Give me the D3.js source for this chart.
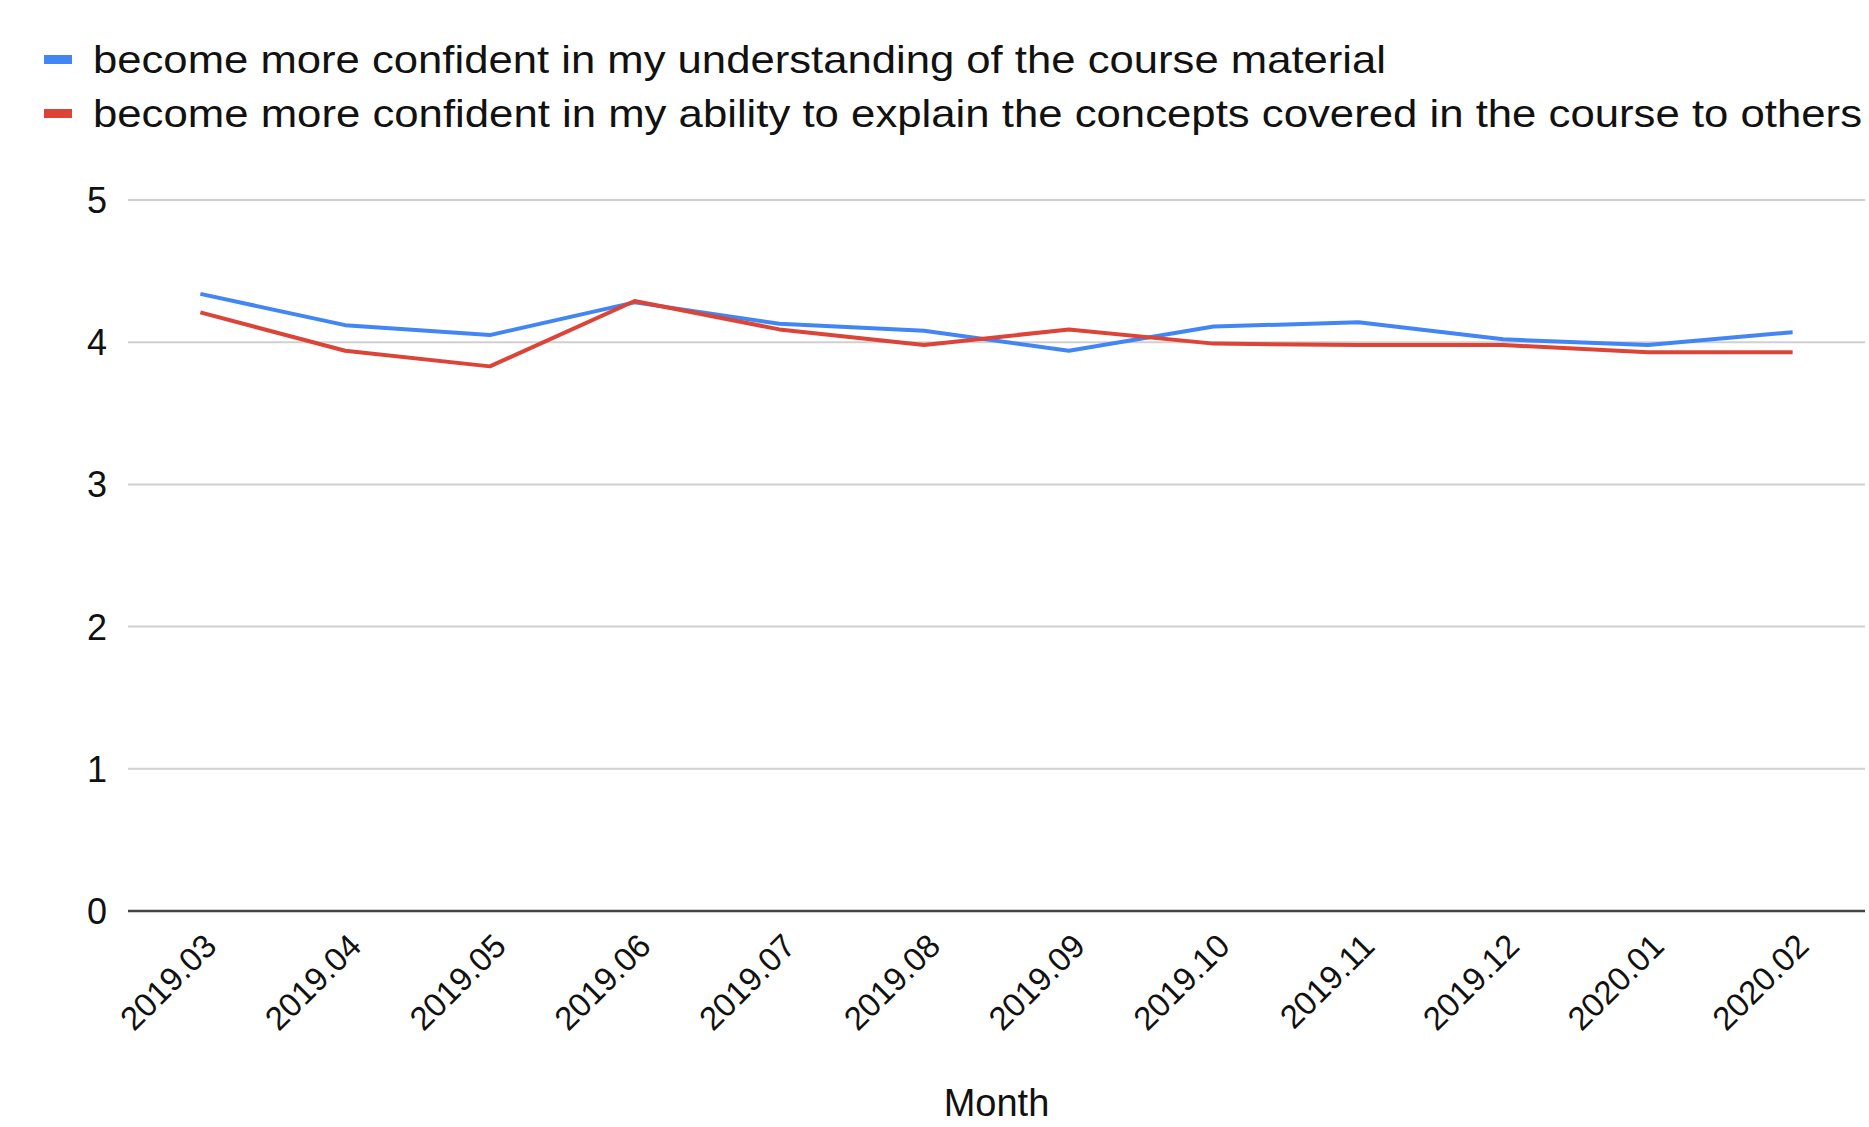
<!DOCTYPE html>
<html>
<head>
<meta charset="utf-8">
<script src="https://cdn.jsdelivr.net/npm/d3@7"></script>
<style>
  html, body { margin: 0; padding: 0; background: #fff; }
  svg { display: block; }
  text { font-family: "Liberation Sans", Arial, sans-serif; fill: #111; }
</style>
</head>
<body>
<svg id="chart" width="1869" height="1127"></svg>
<script>
const months = ["2019.03","2019.04","2019.05","2019.06","2019.07","2019.08","2019.09","2019.10","2019.11","2019.12","2020.01","2020.02"];
const understanding = [4.34, 4.12, 4.05, 4.28, 4.13, 4.08, 3.94, 4.11, 4.14, 4.02, 3.98, 4.07];
const explain = [4.21, 3.94, 3.83, 4.29, 4.09, 3.98, 4.09, 3.99, 3.98, 3.98, 3.93, 3.93];
const seriesNames = [
  "become more confident in my understanding of the course material",
  "become more confident in my ability to explain the concepts covered in the course to others"
];
const yTicks = [0, 1, 2, 3, 4, 5];
const xTitle = "Month";

(function () {
const colors = ["#4285F4", "#DB4437"];
const series = [understanding, explain];
const legendWidths = [1293, 1769];

const svg = d3.select("#chart");
const pLeft = 128, pRight = 1865, pTop = 200, pBottom = 911;

const x = d3.scaleBand().domain(months).range([pLeft, pRight]).padding(0);
const y = d3.scaleLinear().domain([0, 5]).range([pBottom, pTop]);

// gridlines
svg.append("g").selectAll("line").data(yTicks.filter(d => d !== 0)).join("line")
  .attr("x1", pLeft).attr("x2", pRight)
  .attr("y1", d => y(d)).attr("y2", d => y(d))
  .attr("stroke", "#d0d0d0").attr("stroke-width", 2);

// y labels
svg.append("g").selectAll("text").data(yTicks).join("text")
  .attr("x", 107).attr("y", d => y(d))
  .attr("dy", "0.36em")
  .attr("text-anchor", "end")
  .attr("font-size", 36)
  .text(d => d);

// baseline axis
svg.append("line")
  .attr("x1", pLeft).attr("x2", pRight)
  .attr("y1", y(0)).attr("y2", y(0))
  .attr("stroke", "#444").attr("stroke-width", 2.5);

// x labels
svg.append("g").selectAll("text").data(months).join("text")
  .attr("text-anchor", "end")
  .attr("font-size", 33)
  .attr("transform", d => `translate(${x(d) + x.bandwidth() / 2 + 18},${y(0) + 37}) rotate(-45)`)
  .text(d => d);

// lines
const line = d3.line()
  .x((d, i) => x(months[i]) + x.bandwidth() / 2)
  .y(d => y(d));

series.forEach((s, k) => {
  svg.append("path")
    .datum(s)
    .attr("fill", "none")
    .attr("stroke", colors[k])
    .attr("stroke-width", 4)
    .attr("stroke-linejoin", "round")
    .attr("d", line);
});

// legend
const legend = svg.append("g");
seriesNames.forEach((name, k) => {
  const cy = 59.5 + k * 54;
  legend.append("rect")
    .attr("x", 44).attr("y", cy - 4.5)
    .attr("width", 28).attr("height", 9)
    .attr("fill", colors[k]);
  legend.append("text")
    .attr("x", 93).attr("y", cy + 13.5)
    .attr("font-size", 39)
    .attr("textLength", legendWidths[k])
    .attr("lengthAdjust", "spacingAndGlyphs")
    .text(name);
});

// x title
svg.append("text")
  .attr("x", (pLeft + pRight) / 2).attr("y", 1116)
  .attr("text-anchor", "middle")
  .attr("font-size", 38)
  .text(xTitle);
})();
</script>
</body>
</html>
